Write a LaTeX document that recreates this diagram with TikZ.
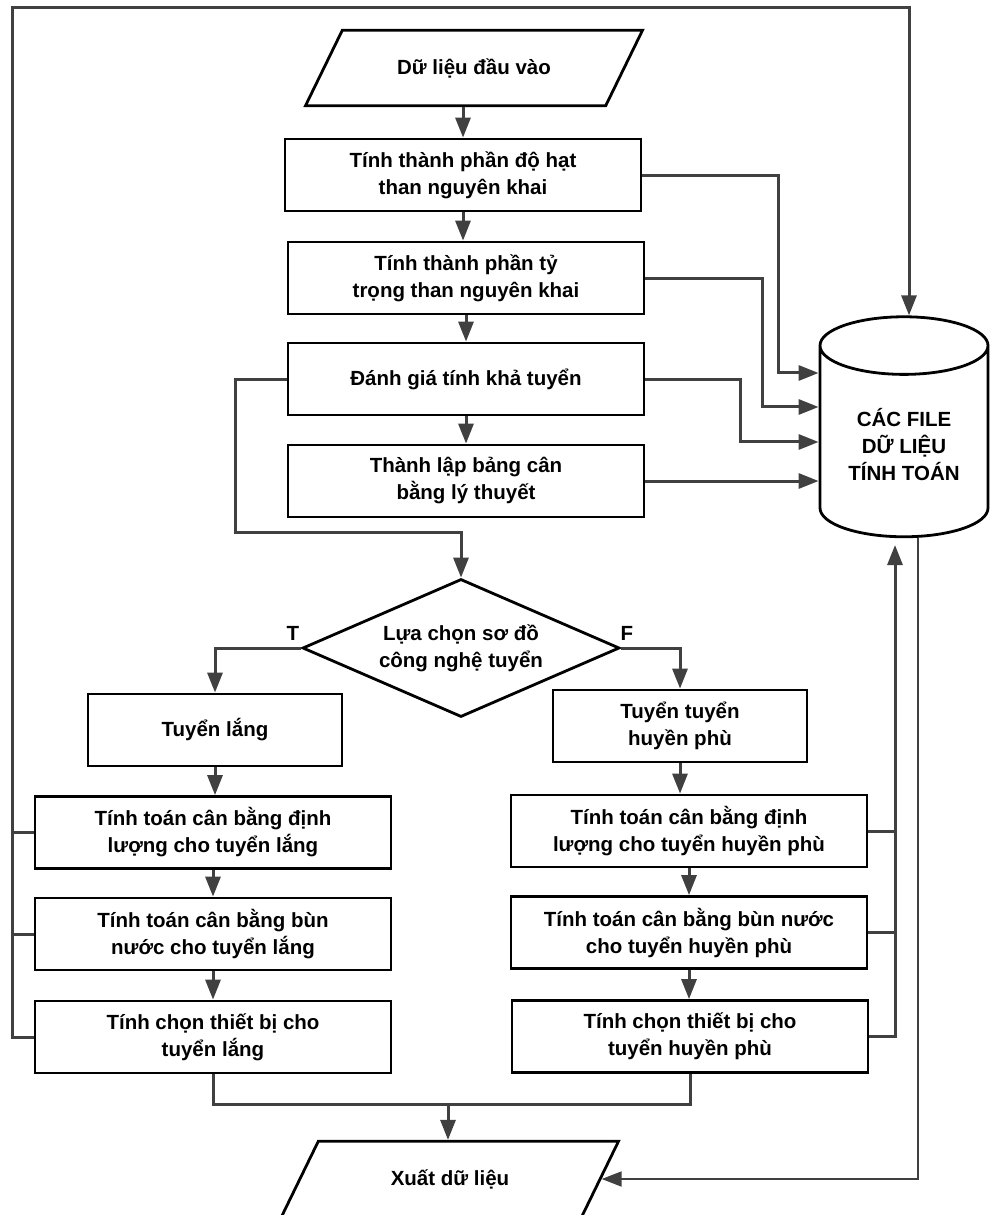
\documentclass[tikz,border=0pt]{standalone}
\usepackage{fontspec}
\setmainfont{Liberation Sans}
\usetikzlibrary{shapes.geometric,arrows.meta}
\definecolor{mydarkgray}{RGB}{64,64,64}
\newcommand{\widthbox}{356pt}
\newcommand{\heightbox}{72pt}
\tikzset{
    common/.style={draw, line width=2.8pt, align=center, inner sep=2pt,
        font=\fontsize{20.5}{27}\selectfont\bfseries},
    box/.style={common, rectangle, minimum width=\widthbox, minimum height=\heightbox},
    shortbox/.style={common, rectangle, minimum width=254pt, minimum height=\heightbox},
    io/.style={common, trapezium, trapezium left angle=64, trapezium right angle=116,
        trapezium stretches body, inner ysep=28pt, minimum width=337pt},
    decision/.style={common, diamond, aspect=2.3, inner sep=0pt,
        minimum width=317pt, minimum height=138pt},
    store/.style={common, cylinder, shape border rotate=90, aspect=0.5,
        minimum width=168pt, minimum height=220pt},
    link/.style={draw=mydarkgray, line width=3pt},
    arrow/.style={link, -{Triangle[length=20pt, width=15pt]}},
    branch/.style={font=\fontsize{20.5}{24}\selectfont\bfseries}
}
\begin{document}
\begin{tikzpicture}[x=1pt, y=-1pt]
    \clip (0,0) rectangle (990,1215);

    % main column
    \node[io] (in) at (474,68) {Dữ liệu đầu vào};
    \path
        (463,175) node[box] (b1) {Tính thành phần độ hạt\\than nguyên khai}
        to ++(3,103) node[box] (b2) {Tính thành phần tỷ\\trọng than nguyên khai}
        to ++(0,101) node[box] (b3) {Đánh giá tính khả tuyển}
        to ++(0,102) node[box] (b4) {Thành lập bảng cân\\bằng lý thuyết};

    \node[store] (files) at (904,445) {CÁC FILE\\DỮ LIỆU\\TÍNH TOÁN};
    \node[decision] (dia) at (461,648) {Lựa chọn sơ đồ\\công nghệ tuyển};
    \node[branch] (tlabel) at (293,633) {T};
    \node[branch] (flabel) at (627,633) {F};

    % two branches
    \path
        (215,730) node[shortbox] (L0) {Tuyển lắng}
        to ++(-2,102.5) node[box] (L1) {Tính toán cân bằng định\\lượng cho tuyển lắng}
        to ++(0,101.5) node[box] (L2) {Tính toán cân bằng bùn\\nước cho tuyển lắng}
        to ++(0,103) node[box] (L3) {Tính chọn thiết bị cho\\tuyển lắng};
    \path
        (680,726) node[shortbox] (R0) {Tuyển tuyển\\huyền phù}
        to ++(9,105) node[box] (R1) {Tính toán cân bằng định\\lượng cho tuyển huyền phù}
        to ++(0,101.5) node[box] (R2) {Tính toán cân bằng bùn nước\\cho tuyển huyền phù}
        to ++(1,104) node[box] (R3) {Tính chọn thiết bị cho\\tuyển huyền phù};

    \node[io] (out) at (450,1179) {Xuất dữ liệu};

    \coordinate (corner) at (12,8);
    \coordinate (join) at (235,532);
    \coordinate (rise) at (895,545);
    \coordinate (merge) at (448,1104);

    % down the column
    \draw[arrow] (in.south -| b1.north) -- (b1.north);
    \draw[arrow] (b1.south) -- (b1.south |- b2.north);
    \draw[arrow] (b2.south) -- (b2.south |- b3.north);
    \draw[arrow] (b3.south) -- (b3.south |- b4.north);
    \draw[arrow] (b3.west) -| (join) -| (dia.north);

    % into the files
    \draw[arrow] (b1.east) -- ++(136,0) |- ([yshift=72pt]files.west);
    \draw[arrow] (b2.east) -- ++(117,0) |- ([yshift=38pt]files.west);
    \draw[arrow] (b3.east) -- ++(95,0) |- ([yshift=3pt]files.west);
    \draw[arrow] (b4.east) -- (b4.east -| files.west);

    % T / F
    \draw[arrow] (dia.west) -| (L0.north);
    \draw[arrow] (dia.east) -| (R0.north);
    \draw[arrow] (L0.south) -- (L0.south |- L1.north);
    \draw[arrow] (L1.south) -- (L1.south |- L2.north);
    \draw[arrow] (L2.south) -- (L2.south |- L3.north);
    \draw[arrow] (R0.south) -- (R0.south |- R1.north);
    \draw[arrow] (R1.south) -- (R1.south |- R2.north);
    \draw[arrow] (R2.south) -- (R2.south |- R3.north);

    % feedback lines
    \draw[arrow] (L3.west) -| (corner) -| ([xshift=5pt]files.north);
    \draw[link] (L1.west) -- (L1.west -| corner);
    \draw[link] (L2.west) -- (L2.west -| corner);
    \draw[arrow] (R3.east) -| (rise);
    \draw[link] (R1.east) -- (R1.east -| rise);
    \draw[link] (R2.east) -- (R2.east -| rise);

    % output
    \draw[link] (L3.south) |- (merge) -| (R3.south);
    \draw[arrow] (merge) -- (merge |- out.north);
    \draw[arrow, line width=2pt] ([xshift=14pt]files.south) |- (out.east);
\end{tikzpicture}
\end{document}
